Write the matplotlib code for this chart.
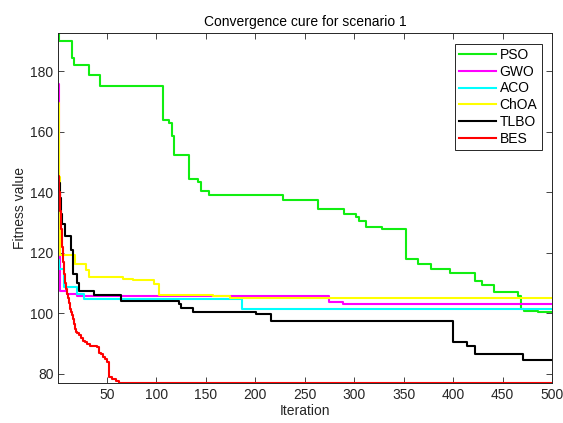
import matplotlib
matplotlib.use('Agg')
import matplotlib.pyplot as plt

plt.rcParams['font.family'] = ['Liberation Sans', 'DejaVu Sans']
plt.rcParams['font.size'] = 10

# step breakpoints: (iteration where the value starts, best fitness)
pso_it = [1, 2, 15, 17, 32, 43, 107, 113, 116, 118, 133, 142, 145, 153, 228,
          263, 290, 302, 305, 312, 328, 352, 365, 378, 397, 422, 429, 441,
          466, 469, 472, 486, 500]
pso_val = [192.6, 190.1, 184.5, 182.2, 178.8, 175.3, 164.0, 163.0, 158.8,
           152.4, 144.3, 143.3, 140.6, 139.3, 137.5, 134.4, 132.9, 132.0,
           130.5, 128.6, 127.8, 118.0, 116.3, 114.6, 113.5, 110.7, 109.4,
           107.2, 105.7, 101.4, 100.8, 100.3, 100.3]

gwo_it = [1, 2, 3, 10, 20, 275, 289, 500]
gwo_val = [176.0, 140.0, 107.4, 106.3, 105.7, 103.8, 103.0, 103.0]

aco_it = [1, 2, 7, 20, 27, 187, 500]
aco_val = [117.5, 114.6, 108.8, 106.3, 104.8, 101.3, 101.3]

choa_it = [1, 2, 3, 18, 29, 32, 66, 76, 98, 103, 157, 175, 500]
choa_val = [169.5, 145.0, 119.2, 116.2, 114.2, 112.1, 111.5, 111.0, 109.6,
            106.2, 105.6, 105.0, 105.0]

tlbo_it = [1, 2, 3, 4, 5, 8, 14, 16, 20, 22, 37, 64, 123, 125, 137, 201, 216,
           400, 414, 422, 471, 500]
tlbo_val = [145.0, 143.0, 138.0, 133.0, 129.5, 125.5, 121.0, 112.9, 110.2,
            107.4, 106.0, 104.1, 103.0, 101.9, 100.4, 99.8, 97.6, 90.6, 89.3,
            86.5, 84.6, 84.6]

bes_it = [1, 2, 3, 4, 5, 6, 7, 8, 9, 10, 11, 12, 13, 14, 15, 16, 17, 18, 19,
          20, 22, 24, 26, 28, 30, 33, 40, 42, 44, 46, 48, 50, 52, 55, 59, 62,
          500]
bes_val = [145.5, 140.0, 134.0, 128.0, 122.0, 117.0, 113.0, 110.0, 108.0,
           106.5, 105.0, 103.5, 101.5, 100.5, 99.5, 98.0, 96.5, 95.0, 94.0,
           93.5, 93.0, 92.0, 91.0, 90.5, 89.8, 89.3, 89.0, 87.0, 86.5, 85.5,
           85.0, 83.8, 79.0, 78.3, 77.8, 76.9, 76.9]

names = ['PSO', 'GWO', 'ACO', 'ChOA', 'TLBO', 'BES']
colors = ['#11ee11', '#ff00ff', '#00ffff', '#ffff00', '#000000', '#ff0000']
series = [(pso_it, pso_val), (gwo_it, gwo_val), (aco_it, aco_val),
          (choa_it, choa_val), (tlbo_it, tlbo_val), (bes_it, bes_val)]

fig = plt.figure(figsize=(5.63, 4.23), dpi=100)
ax = fig.add_axes([0.1036, 0.0939, 0.877, 0.8274])

for i in range(len(names)):
    ax.plot(series[i][0], series[i][1], color=colors[i], lw=1.5,
            drawstyle='steps-post', label=names[i])

allv = [v for s in series for v in s[1]]
ax.set_xlim(1, 500)
ax.set_ylim(min(allv), max(allv))
ax.set_xticks(range(50, 501, 50))
ax.set_yticks(range(80, 181, 20))

ax.tick_params(direction='in', length=4, width=0.6, top=True, right=True,
               colors='#262626', labelsize=10)
for s in ax.spines.values():
    s.set_color('#262626')
    s.set_linewidth(0.7)

ax.set_title('Convergence cure for scenario 1', fontsize=10, color='#000000', pad=5)
ax.set_xlabel('Iteration', fontsize=10, color='#262626', labelpad=1)
ax.set_ylabel('Fitness value', fontsize=10, color='#262626', labelpad=2)

leg = ax.legend(loc='upper right', fontsize=10, fancybox=False, framealpha=1,
                edgecolor='#262626', handlelength=2.6, handletextpad=0.3,
                labelspacing=0.2, borderpad=0.3, borderaxespad=0.75)
leg.get_frame().set_linewidth(0.7)

fig.savefig('out.png', dpi=100)
